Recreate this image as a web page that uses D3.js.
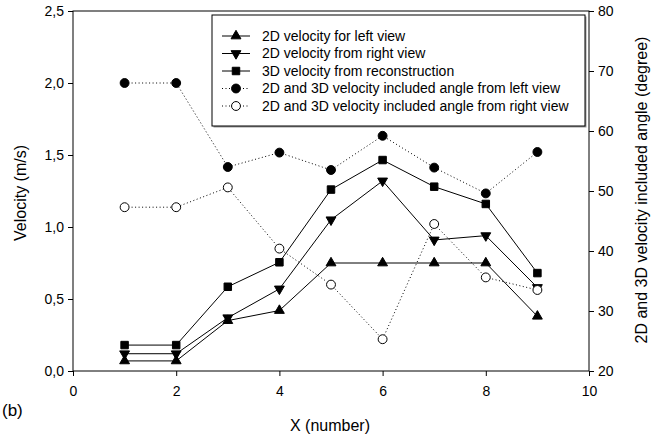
<!DOCTYPE html>
<html>
<head>
<meta charset="utf-8">
<script src="https://cdn.jsdelivr.net/npm/d3@7/dist/d3.min.js"></script>
<style>
  body { margin: 0; background: #fff; }
  text { font-family: "Liberation Sans", Arial, sans-serif; fill: #000; }
</style>
</head>
<body>
<svg id="chart" width="658" height="438"></svg>
<script>
var x_values = [1, 2, 3, 4, 5, 6, 7, 8, 9];

// velocity (m/s), left axis
var vel_left_view = [0.07, 0.07, 0.35, 0.42, 0.75, 0.75, 0.75, 0.75, 0.38];
var vel_right_view = [0.12, 0.12, 0.37, 0.57, 1.05, 1.32, 0.91, 0.94, 0.58];
var vel_3d = [0.18, 0.18, 0.585, 0.755, 1.26, 1.465, 1.28, 1.16, 0.68];

// included angle (degree), right axis
var angle_left_view = [68, 68, 54, 56.4, 53.5, 59.2, 53.9, 49.6, 56.5];
var angle_right_view = [47.3, 47.3, 50.6, 40.4, 34.4, 25.3, 44.5, 35.6, 33.5];

var x_ticks = [0, 2, 4, 6, 8, 10];
var vel_ticks = [0, 0.5, 1.0, 1.5, 2.0, 2.5];
var angle_ticks = [20, 30, 40, 50, 60, 70, 80];

var legend_labels = [
  '2D velocity for left view',
  '2D velocity from right view',
  '3D velocity from reconstruction',
  '2D and 3D velocity included angle from left view',
  '2D and 3D velocity included angle from right view'
];

var svg = d3.select('#chart');

var plot = { left: 73, right: 589, top: 11, bottom: 371 };

var x = d3.scaleLinear().domain([0, 10]).range([plot.left, plot.right]);
var y_vel = d3.scaleLinear().domain([0, 2.5]).range([plot.bottom, plot.top]);
var y_angle = d3.scaleLinear().domain([20, 80]).range([plot.bottom, plot.top]);

var comma_fmt = function(d) { return d3.format('.1f')(d).replace('.', ','); };

function styleAxis(g) {
  g.select('.domain').remove();
  g.selectAll('line').attr('stroke', '#000');
  g.selectAll('text').attr('font-size', '14px');
}

svg.append('g')
  .attr('transform', 'translate(0,' + plot.bottom + ')')
  .call(d3.axisBottom(x).tickValues(x_ticks).tickSize(5).tickPadding(10).tickFormat(d3.format('d')))
  .call(styleAxis);

svg.append('g')
  .attr('transform', 'translate(' + plot.left + ',0)')
  .call(d3.axisLeft(y_vel).tickValues(vel_ticks).tickSize(5).tickPadding(4).tickFormat(comma_fmt))
  .call(styleAxis);

svg.append('g')
  .attr('transform', 'translate(' + plot.right + ',0)')
  .call(d3.axisRight(y_angle).tickValues(angle_ticks).tickSize(5).tickPadding(4).tickFormat(d3.format('d')))
  .call(styleAxis);

// frame
svg.append('rect')
  .attr('x', plot.left).attr('y', plot.top)
  .attr('width', plot.right - plot.left).attr('height', plot.bottom - plot.top)
  .attr('fill', 'none').attr('stroke', '#000').attr('stroke-width', 1);

var series = [
  { values: vel_left_view, scale: y_vel, dash: null, symbol: d3.symbolTriangle, size: 42, rotate: 0, fill: '#000' },
  { values: vel_right_view, scale: y_vel, dash: null, symbol: d3.symbolTriangle, size: 42, rotate: 180, fill: '#000' },
  { values: vel_3d, scale: y_vel, dash: null, symbol: d3.symbolSquare, size: 56, rotate: 0, fill: '#000' },
  { values: angle_left_view, scale: y_angle, dash: '1,2.5', symbol: d3.symbolCircle, size: 62, rotate: 0, fill: '#000' },
  { values: angle_right_view, scale: y_angle, dash: '1,2.5', symbol: d3.symbolCircle, size: 62, rotate: 0, fill: '#fff' }
];

series.forEach(function(s) {
  var line = d3.line()
    .x(function(d, i) { return x(x_values[i]); })
    .y(function(d) { return s.scale(d); });

  svg.append('path')
    .datum(s.values)
    .attr('d', line)
    .attr('fill', 'none')
    .attr('stroke', '#000')
    .attr('stroke-width', 1)
    .attr('stroke-dasharray', s.dash);
});

series.forEach(function(s) {
  svg.append('g').selectAll('path')
    .data(s.values)
    .enter()
    .append('path')
    .attr('d', d3.symbol().type(s.symbol).size(s.size))
    .attr('transform', function(d, i) {
      return 'translate(' + x(x_values[i]) + ',' + s.scale(d) + ') rotate(' + s.rotate + ')';
    })
    .attr('fill', s.fill)
    .attr('stroke', '#000')
    .attr('stroke-width', 1);
});

// legend
var legend = { x: 212, y: 15, w: 373, h: 111, first_row: 21, row_gap: 17.5 };

svg.append('rect')
  .attr('x', legend.x + 1.5).attr('y', legend.y + 1.5)
  .attr('width', legend.w).attr('height', legend.h)
  .attr('fill', '#999');
svg.append('rect')
  .attr('x', legend.x).attr('y', legend.y)
  .attr('width', legend.w).attr('height', legend.h)
  .attr('fill', '#fff').attr('stroke', '#000').attr('stroke-width', 1);

var legend_rows = svg.append('g').selectAll('g')
  .data(legend_labels)
  .enter()
  .append('g')
  .attr('transform', function(d, i) {
    return 'translate(' + legend.x + ',' + (legend.y + legend.first_row + i * legend.row_gap) + ')';
  });

legend_rows.append('line')
  .attr('x1', 10).attr('x2', 38)
  .attr('y1', 0).attr('y2', 0)
  .attr('stroke', '#000')
  .attr('stroke-dasharray', function(d, i) { return series[i].dash; });

legend_rows.append('path')
  .attr('d', function(d, i) { return d3.symbol().type(series[i].symbol).size(series[i].size)(); })
  .attr('transform', function(d, i) { return 'translate(24,0) rotate(' + series[i].rotate + ')'; })
  .attr('fill', function(d, i) { return series[i].fill; })
  .attr('stroke', '#000');

legend_rows.append('text')
  .attr('x', 50)
  .attr('dy', '0.35em')
  .attr('font-size', '14px')
  .text(function(d) { return d; });

// axis titles
svg.append('text')
  .attr('x', 330).attr('y', 431)
  .attr('text-anchor', 'middle')
  .attr('font-size', '16px')
  .text('X (number)');

svg.append('text')
  .attr('transform', 'translate(26,193) rotate(-90)')
  .attr('text-anchor', 'middle')
  .attr('font-size', '16px')
  .text('Velocity (m/s)');

svg.append('text')
  .attr('transform', 'translate(647,190) rotate(-90)')
  .attr('text-anchor', 'middle')
  .attr('font-size', '16px')
  .text('2D and 3D velocity included angle (degree)');

svg.append('text')
  .attr('x', 2).attr('y', 416)
  .attr('font-size', '17px')
  .text('(b)');
</script>
</body>
</html>
